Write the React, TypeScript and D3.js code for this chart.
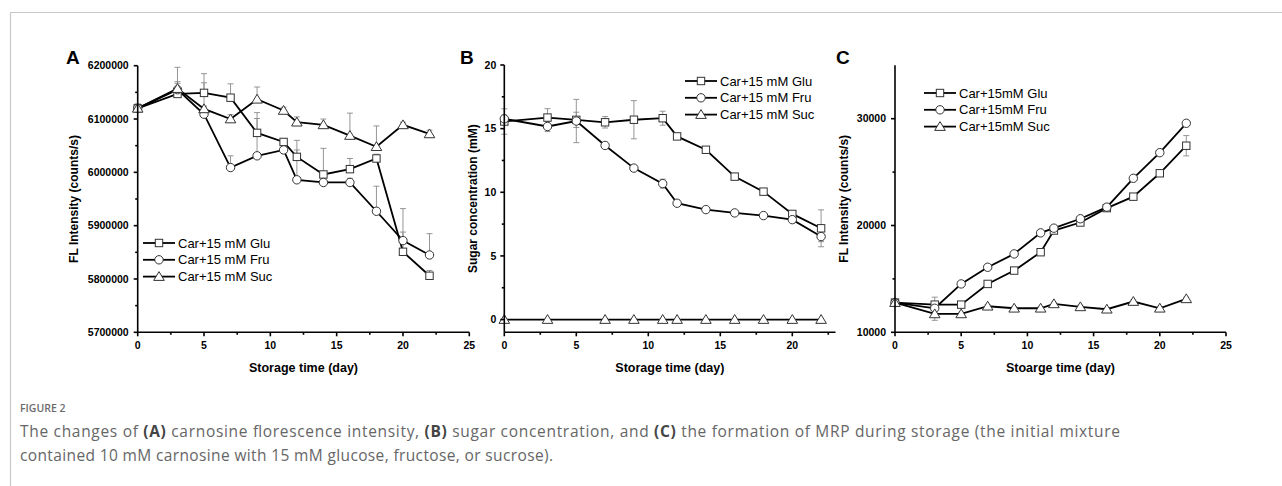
import * as d3 from "d3";

// sampling days
const days = [0, 3, 5, 7, 9, 11, 12, 14, 16, 18, 20, 22];
const daysSucB = [0, 3, 7, 9, 11, 12, 14, 16, 18, 20, 22];

// A: carnosine FL intensity (counts/s)
const aGlu = [6120000, 6147000, 6149000, 6140000, 6074000, 6057000, 6029000, 5996000, 6006000, 6026000, 5851000, 5806000];
const aFru = [6120000, 6155000, 6109000, 6009000, 6031000, 6042000, 5986000, 5981000, 5981000, 5927000, 5872000, 5845000];
const aSuc = [6120000, 6157000, 6119000, 6100000, 6137000, 6116000, 6094000, 6089000, 6069000, 6048000, 6089000, 6072000];
const aGluErr = [8000, 20000, 36000, 26000, 27000, 6000, 31000, 49000, 20000, 8000, 37000, 10000];
const aFruErr = [6000, 15000, 15000, 22000, 81000, 8000, 56000, 10000, 8000, 47000, 60000, 40000];
const aSucErr = [8000, 40000, 49000, 8000, 23000, 6000, 10000, 11000, 42000, 39000, 5000, 7000];

// B: sugar concentration (mM)
const bGlu = [15.56, 15.87, 15.69, 15.5, 15.7, 15.82, 14.39, 13.34, 11.23, 10.05, 8.3, 7.17];
const bFru = [15.77, 15.17, 15.6, 13.68, 11.9, 10.68, 9.14, 8.64, 8.38, 8.17, 7.85, 6.52];
const bSuc = [0, 0, 0, 0, 0, 0, 0, 0, 0, 0, 0];
const bGluErr = [1.0, 0.7, 0.6, 0.45, 1.5, 0.55, 0.15, 0.2, 0.15, 0.1, 0.25, 1.45];
const bFruErr = [0.3, 0.4, 1.7, 0.1, 0.1, 0.35, 0.2, 0.1, 0.15, 0.1, 0.2, 0.4];
const bSucErr = [0, 0, 0, 0, 0, 0, 0, 0, 0, 0, 0];

// C: MRP formation, FL intensity (counts/s)
const cGlu = [12780, 12590, 12590, 14530, 15780, 17500, 19530, 20280, 21630, 22700, 24890, 27470];
const cFru = [12780, 12250, 14530, 16090, 17340, 19310, 19750, 20630, 21720, 24420, 26820, 29570];
const cSuc = [12780, 11720, 11720, 12440, 12250, 12250, 12660, 12380, 12160, 12880, 12250, 13130];
const cGluErr = [150, 700, 100, 150, 150, 150, 150, 150, 150, 150, 150, 950];
const cFruErr = [150, 150, 150, 150, 150, 150, 150, 150, 150, 150, 150, 150];
const cSucErr = [150, 600, 150, 150, 150, 150, 150, 150, 150, 150, 150, 150];

const legendAB = ["Car+15 mM Glu", "Car+15 mM Fru", "Car+15 mM Suc"];
const legendC = ["Car+15mM Glu", "Car+15mM Fru", "Car+15mM Suc"];
const shapes = ["square", "circle", "triangle"];

const FONT = "'Liberation Sans', Arial, sans-serif";

function Marker({ shape, x, y }) {
  const common = { fill: "#fff", stroke: "#333", strokeWidth: 1 };
  if (shape === "circle") return <circle cx={x} cy={y} r={4.2} {...common} />;
  if (shape === "square") return <rect x={x - 3.7} y={y - 3.7} width={7.4} height={7.4} {...common} />;
  return <path d={`M${x},${y - 5}L${x + 5.3},${y + 3.8}L${x - 5.3},${y + 3.8}Z`} {...common} />;
}

function Panel({ cfg }) {
  const x = d3.scaleLinear().domain(cfg.xDomain).range(cfg.xRange);
  const y = d3.scaleLinear().domain(cfg.yDomain).range(cfg.yRange);
  const [x0, x1] = cfg.xRange;
  const yb = cfg.yRange[0];
  const line = d3.line().x((d) => x(d[0])).y((d) => y(d[1]));

  return (
    <g fontFamily={FONT}>
      <text x={cfg.letterX} y={64} fontSize={19} fontWeight="bold">{cfg.letter}</text>

      {/* error bars */}
      {cfg.series.map((s, si) =>
        s.days.map((dd, i) => {
          const e = s.errs[i];
          if (!e) return null;
          const cx = x(dd);
          const top = y(s.values[i] + e);
          const bot = cfg.errBoth ? y(s.values[i] - e) : y(s.values[i]);
          return (
            <g key={`e${si}-${i}`} stroke="#8a8a8a" strokeWidth={0.9}>
              <line x1={cx} x2={cx} y1={top} y2={bot} />
              <line x1={cx - 3} x2={cx + 3} y1={top} y2={top} />
              {cfg.errBoth && <line x1={cx - 3} x2={cx + 3} y1={bot} y2={bot} />}
            </g>
          );
        })
      )}

      {/* lines */}
      {cfg.series.map((s, si) => (
        <path key={`l${si}`} d={line(s.days.map((dd, i) => [dd, s.values[i]]))} fill="none" stroke="#000" strokeWidth={1.8} />
      ))}

      {/* markers */}
      {cfg.series.map((s, si) =>
        s.days.map((dd, i) => <Marker key={`m${si}-${i}`} shape={s.shape} x={x(dd)} y={y(s.values[i])} />)
      )}

      {/* axes */}
      <g stroke="#000" strokeWidth={1.6}>
        <line x1={x0} x2={x1} y1={yb} y2={yb} />
        <line x1={x0} x2={x0} y1={yb} y2={cfg.yRange[1]} />
        {cfg.xTicks.map((t) => <line key={`xt${t}`} x1={x(t)} x2={x(t)} y1={yb} y2={yb + 4} />)}
        {cfg.xMinor.map((t) => <line key={`xm${t}`} x1={x(t)} x2={x(t)} y1={yb} y2={yb + 2.5} />)}
        {cfg.yTicks.map((t) => <line key={`yt${t}`} x1={x0} x2={x0 - 4} y1={y(t)} y2={y(t)} />)}
        {cfg.yMinor.map((t) => <line key={`ym${t}`} x1={x0} x2={x0 - 2.5} y1={y(t)} y2={y(t)} />)}
      </g>
      <g fontSize={10.5} fontWeight="bold" fill="#000">
        {cfg.xTicks.map((t) => (
          <text key={`xl${t}`} x={x(t)} y={yb + 17} textAnchor="middle">{t}</text>
        ))}
        {cfg.yTicks.map((t) => (
          <text key={`yl${t}`} x={x0 - cfg.yLabelGap} y={y(t)} dy="0.36em" textAnchor="end">{t}</text>
        ))}
      </g>
      <text x={(x0 + x1) / 2} y={372} textAnchor="middle" fontSize={12.5} fontWeight="bold">{cfg.xTitle}</text>
      <text
        transform={`translate(${cfg.yTitleX},${(cfg.yRange[0] + cfg.yRange[1]) / 2}) rotate(-90)`}
        textAnchor="middle"
        fontSize={12}
        fontWeight="bold"
      >
        {cfg.yTitle}
      </text>

      {/* legend */}
      {cfg.legend.map((lab, i) => {
        const ly = cfg.legendY + i * 16.8;
        const lx = cfg.legendX;
        return (
          <g key={`lg${i}`}>
            <line x1={lx} x2={lx + 32} y1={ly} y2={ly} stroke="#000" strokeWidth={1.8} />
            <Marker shape={shapes[i]} x={lx + 16} y={ly} />
            <text x={lx + 35} y={ly} dy="0.36em" fontSize={13}>{lab}</text>
          </g>
        );
      })}
    </g>
  );
}

const panels = [
  {
    letter: "A",
    letterX: 66,
    xDomain: [0, 25],
    xRange: [137.7, 469.3],
    yDomain: [5700000, 6200000],
    yRange: [332.3, 65.7],
    xTicks: [0, 5, 10, 15, 20, 25],
    xMinor: [2.5, 7.5, 12.5, 17.5, 22.5],
    yTicks: [5700000, 5800000, 5900000, 6000000, 6100000, 6200000],
    yMinor: [5750000, 5850000, 5950000, 6050000, 6150000],
    yLabelGap: 9,
    xTitle: "Storage time (day)",
    yTitle: "FL Intensity (counts/s)",
    yTitleX: 78,
    errBoth: false,
    legend: legendAB,
    legendX: 143,
    legendY: 243,
    series: [
      { days, values: aGlu, errs: aGluErr, shape: "square" },
      { days, values: aFru, errs: aFruErr, shape: "circle" },
      { days, values: aSuc, errs: aSucErr, shape: "triangle" },
    ],
  },
  {
    letter: "B",
    letterX: 460,
    xDomain: [0, 23],
    xRange: [504.3, 835.5],
    yDomain: [-1, 20],
    yRange: [332.3, 65],
    xTicks: [0, 5, 10, 15, 20],
    xMinor: [2.5, 7.5, 12.5, 17.5, 22.5],
    yTicks: [0, 5, 10, 15, 20],
    yMinor: [2.5, 7.5, 12.5, 17.5],
    yLabelGap: 8,
    xTitle: "Storage time (day)",
    yTitle: "Sugar concentration (mM)",
    yTitleX: 477,
    errBoth: true,
    legend: legendAB,
    legendX: 685,
    legendY: 81,
    series: [
      { days, values: bGlu, errs: bGluErr, shape: "square" },
      { days, values: bFru, errs: bFruErr, shape: "circle" },
      { days: daysSucB, values: bSuc, errs: bSucErr, shape: "triangle" },
    ],
  },
  {
    letter: "C",
    letterX: 836,
    xDomain: [0, 25],
    xRange: [895, 1226],
    yDomain: [10000, 35000],
    yRange: [332.3, 65.3],
    xTicks: [0, 5, 10, 15, 20, 25],
    xMinor: [2.5, 7.5, 12.5, 17.5, 22.5],
    yTicks: [10000, 20000, 30000],
    yMinor: [15000, 25000],
    yLabelGap: 9,
    xTitle: "Stoarge time (day)",
    yTitle: "FL Intensity (counts/s)",
    yTitleX: 848,
    errBoth: true,
    legend: legendC,
    legendX: 924,
    legendY: 93,
    series: [
      { days, values: cGlu, errs: cGluErr, shape: "square" },
      { days, values: cFru, errs: cFruErr, shape: "circle" },
      { days, values: cSuc, errs: cSucErr, shape: "triangle" },
    ],
  },
];

export default function App() {
  const capFont = "'Open Sans', 'Noto Sans', sans-serif";
  return (
    <svg width={1282} height={486} style={{ position: "absolute", left: 0, top: 0, background: "#fff" }}>
      <rect x={0} y={0} width={1282} height={486} fill="#fff" />
      <line x1={10} x2={1282} y1={12.5} y2={12.5} stroke="#c8c8c8" strokeWidth={1.2} />
      <line x1={10.5} x2={10.5} y1={12} y2={486} stroke="#c8c8c8" strokeWidth={1.2} />

      {panels.map((p) => <Panel key={p.letter} cfg={p} />)}

      <g fontFamily={capFont} fill="#666">
        <text x={20} y={411.5} fontSize={10.5} fontWeight="600" fill="#6b6b6b">FIGURE 2</text>
        <text x={20} y={437} fontSize={15.5} textLength={1100}>
          The changes of <tspan fontWeight="bold" fill="#444">(A)</tspan> carnosine florescence intensity,{" "}
          <tspan fontWeight="bold" fill="#444">(B)</tspan> sugar concentration, and{" "}
          <tspan fontWeight="bold" fill="#444">(C)</tspan> the formation of MRP during storage (the initial mixture
        </text>
        <text x={20} y={461} fontSize={15.5} textLength={533}>
          contained 10 mM carnosine with 15 mM glucose, fructose, or sucrose).
        </text>
      </g>
    </svg>
  );
}
